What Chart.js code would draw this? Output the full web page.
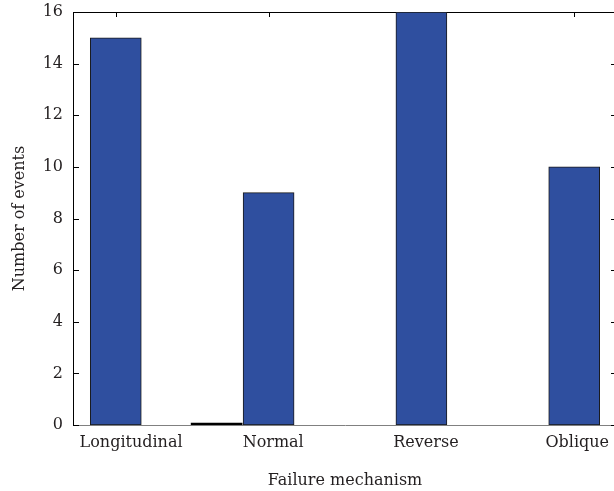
<!DOCTYPE html>
<html>
<head>
<meta charset="utf-8">
<script src="https://cdn.jsdelivr.net/npm/chart.js@4"></script>
<style>
html, body { margin: 0; padding: 0; background: #fff; overflow: hidden; }
</style>
</head>
<body>
<canvas id="myChart" width="620" height="491"></canvas>
<script>
// categories and counts
const categories = ['Longitudinal', 'Normal', 'Reverse', 'Oblique'];
const positions = [1, 2, 3, 4];
const events = [15, 9, 16, 10];
// label positions along the x axis (labels are not exactly centred on bars)
const labelPos = [1.10, 2.03, 3.03, 4.02];
// empty (zero) bar next to Normal
const emptyPos = [1.66];
const emptyVals = [0];
const yTicks = [0, 2, 4, 6, 8, 10, 12, 14, 16];

const serif = { family: 'DejaVu Serif', size: 16 };
const textColor = '#231f20';

// inward tick marks + top/right frame
const frameTicks = {
    id: 'frameTicks',
    beforeDatasetsDraw(chart) {
        const { ctx, chartArea: a, scales: { x, y } } = chart;
        ctx.save();
        ctx.strokeStyle = '#000';
        ctx.lineWidth = 1;
        ctx.beginPath();
        ctx.moveTo(a.left, a.top + 0.5);
        ctx.lineTo(a.right, a.top + 0.5);
        ctx.moveTo(a.right - 0.5, a.top);
        ctx.lineTo(a.right - 0.5, a.bottom);
        yTicks.forEach(v => {
            const py = Math.round(y.getPixelForValue(v)) + 0.5;
            ctx.moveTo(a.left, py);
            ctx.lineTo(a.left + 6, py);
            ctx.moveTo(a.right, py);
            ctx.lineTo(a.right - 6, py);
        });
        positions.forEach(v => {
            const px = Math.round(x.getPixelForValue(v)) + 0.5;
            ctx.moveTo(px, a.top);
            ctx.lineTo(px, a.top + 5);
        });
        ctx.stroke();
        ctx.restore();
    }
};

const ctx = document.getElementById('myChart').getContext('2d');
let myChart = new Chart(ctx, {
    type: 'bar',
    data: {
        datasets: [
            {
                label: 'Number of events',
                data: positions.map((p, i) => ({ x: p, y: events[i] })),
                backgroundColor: '#2f4f9f',
                borderColor: '#1a1a1a',
                borderWidth: 1,
                borderSkipped: false,
                barThickness: 51,
                grouped: false
            },
            {
                label: 'empty',
                data: emptyPos.map((p, i) => ({ x: p, y: emptyVals[i] })),
                backgroundColor: '#000',
                borderWidth: 0,
                minBarLength: 2,
                barThickness: 51,
                grouped: false
            }
        ]
    },
    options: {
        responsive: false,
        animation: false,
        layout: { padding: { top: 12, right: 3, left: 0, bottom: 0 } },
        plugins: {
            legend: { display: false },
            tooltip: { enabled: false }
        },
        scales: {
            x: {
                type: 'linear',
                min: 0.72,
                max: 4.28,
                offset: false,
                afterBuildTicks: s => { s.ticks = labelPos.map(v => ({ value: v })); },
                afterFit: s => { s.height = 66; s.paddingLeft = 0; s.paddingRight = 0; },
                grid: { display: false, drawTicks: false, offset: false },
                border: { display: true, color: '#808080', width: 1 },
                ticks: {
                    autoSkip: false,
                    maxRotation: 0,
                    padding: 8,
                    color: textColor,
                    font: serif,
                    callback: (v, i) => categories[i]
                },
                title: {
                    display: true,
                    text: 'Failure mechanism',
                    color: textColor,
                    font: serif,
                    padding: { top: 2, bottom: 1 }
                }
            },
            y: {
                min: 0,
                max: 16,
                afterFit: s => { s.width = 73; s.paddingTop = 0; s.paddingBottom = 0; },
                afterBuildTicks: s => { s.ticks = yTicks.map(v => ({ value: v })); },
                grid: { display: false, drawTicks: false },
                border: { display: true, color: '#000', width: 1 },
                ticks: {
                    padding: 10,
                    color: textColor,
                    font: serif
                },
                title: {
                    display: true,
                    text: 'Number of events',
                    color: textColor,
                    font: serif,
                    padding: { top: 10, bottom: 0 }
                }
            }
        }
    },
    plugins: [frameTicks]
});
</script>
</body>
</html>
